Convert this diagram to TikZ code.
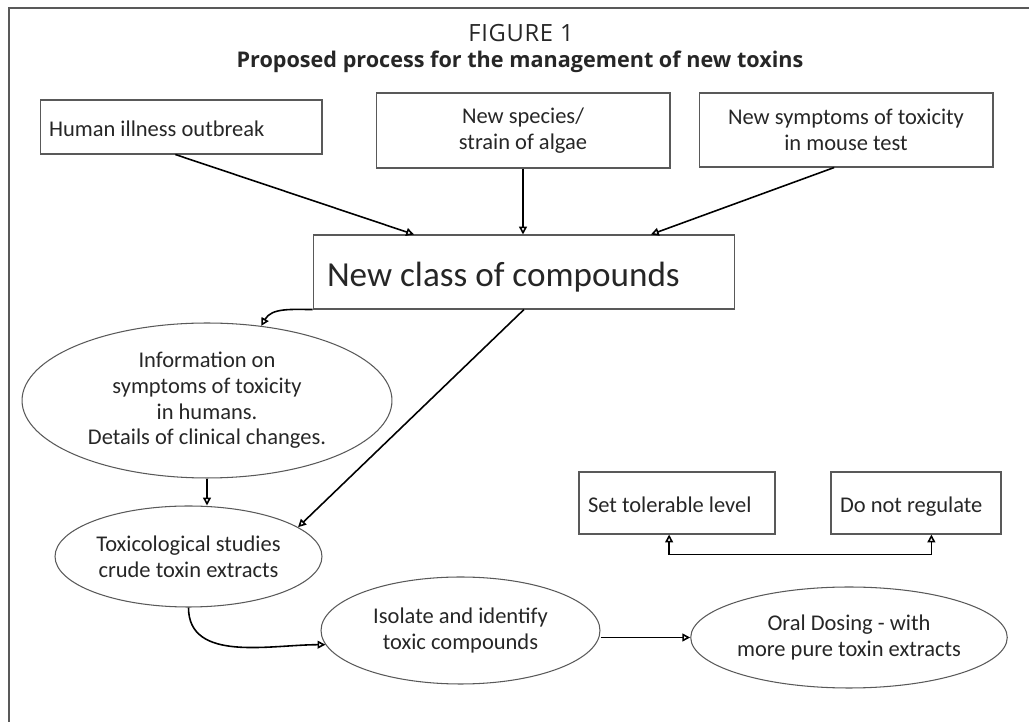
\documentclass[tikz,border=0pt]{standalone}
\usepackage{fontspec}
\setmainfont{Carlito}
\newfontfamily\headfont{Open Sans}
\usepackage{xcolor}
\usepackage{tikz}
\usetikzlibrary{shapes.geometric}
\usetikzlibrary{arrows.meta,calc}
\colorlet{frame}{black!65}
\colorlet{ink}{black!85}
\newcommand{\textsz}{\fontsize{12.8}{14.6}\selectfont}
\tikzset{
  % node options
  box/.style={rectangle,draw=frame,line width=0.6pt,text=ink,font=\textsz,inner sep=0pt},
  leftbox/.style={box,align=flush left,text height=13pt,text depth=2pt},
  midbox/.style={box,align=center,minimum width=5.88cm},
  oval/.style={ellipse,draw=frame,line width=0.6pt,text=ink,font=\textsz,align=center,inner sep=0pt},
  heading/.style={text=ink,inner sep=0pt},
  % path options
  flow/.style={-{Triangle[open,length=4.5pt,width=4.5pt]},line width=0.9pt},
  flow both/.style={{Triangle[open,length=4.5pt,width=4.5pt]}-{Triangle[open,length=4.5pt,width=4.5pt]},line width=0.9pt},
}
\newcommand{\Outbreak}{\node[leftbox,text width=5.28cm,inner xsep=0.18cm,minimum height=1.08cm] (outbreak) at (181,127) {Human illness outbreak};}
\newcommand{\NewSpecies}{\node[midbox,minimum height=1.5cm] (new species) at (523,130.5) {New species/\\strain of algae};}
\newcommand{\MouseTest}{\node[midbox,minimum height=1.48cm] (mouse test) at (846,130) {New symptoms of toxicity\\in mouse test};}
\newcommand{\NewClass}{\node[leftbox,font=\fontsize{20}{24}\selectfont,text height=19pt,text depth=3pt,text width=7.88cm,inner xsep=0.28cm,minimum height=1.48cm] (new class) at (524,272) {New class of compounds};}
\newcommand{\HumanInfo}{\node[oval,minimum width=7.4cm,minimum height=3.1cm] (human info) at (207,400.5) {Information on\\symptoms of toxicity\\in humans.\\Details of clinical changes.};}
\newcommand{\ToxStudies}{\node[oval,minimum width=5.34cm,minimum height=2.02cm] (tox studies) at (188.5,556.5) {Toxicological studies\\crude toxin extracts};}
\newcommand{\IsolateToxins}{\node[oval,minimum width=5.58cm,minimum height=2.14cm] (isolate) at (460.5,630.5) {Isolate and identify\\toxic compounds};}
\newcommand{\OralDosing}{\node[oval,minimum width=6.24cm,minimum height=2.02cm] (oral dosing) at (849,637.5) {Oral Dosing - with\\more pure toxin extracts};}
\newcommand{\SetLevel}{\node[leftbox,text width=3.56cm,inner xsep=0.18cm,minimum height=1.24cm] (set level) at (677,503) {Set tolerable level};}
\newcommand{\NoRegulation}{\node[leftbox,text width=3.04cm,inner xsep=0.18cm,minimum height=1.24cm] (no regulation) at (916,503) {Do not regulate};}

\begin{document}
\begin{tikzpicture}[x=0.02cm,y=-0.02cm]
    \useasboundingbox (0,0) rectangle (1029,722);
    \draw[frame,line width=0.7pt] (1029,8) -- (9,8) -- (9,722);
    \node[heading,font=\headfont\addfontfeatures{LetterSpace=3}\fontsize{13.5}{15}\selectfont] (fig no) at (521,33) {FIGURE 1};
    \node[heading,font=\headfont\bfseries\fontsize{12.3}{14}\selectfont] (caption) at (520,62) {Proposed process for the management of new toxins};
    \Outbreak
    \NewSpecies
    \MouseTest
    \NewClass
    \HumanInfo
    \ToxStudies
    \IsolateToxins
    \OralDosing
    \SetLevel
    \NoRegulation
    \draw[flow] ($(outbreak.south west)!0.48!(outbreak.south east)$) -- ($(new class.north west)!0.24!(new class.north east)$);
    \draw[flow] (new species.south) -- (new species.south |- new class.north);
    \draw[flow] ($(mouse test.south west)!0.46!(mouse test.south east)$) -- ($(new class.north west)!0.8!(new class.north east)$);
    \draw[flow] (new class.south west) to[out=180,in=60] (human info.54);
    \draw[flow] (human info.south) -- (human info.south |- tox studies.north);
    \draw[flow] (new class.south) -- (tox studies.15);
    \draw[flow] (tox studies.south) to[out=-90,in=180] (isolate.186);
    \draw[flow] (isolate.east |- oral dosing.west) -- (oral dosing.west);
    \draw[flow both] ($(set level.south west)!0.46!(set level.south east)$) -- ++(0,20) -| ($(no regulation.south west)!0.59!(no regulation.south east)$);
  \end{tikzpicture}
\end{document}
